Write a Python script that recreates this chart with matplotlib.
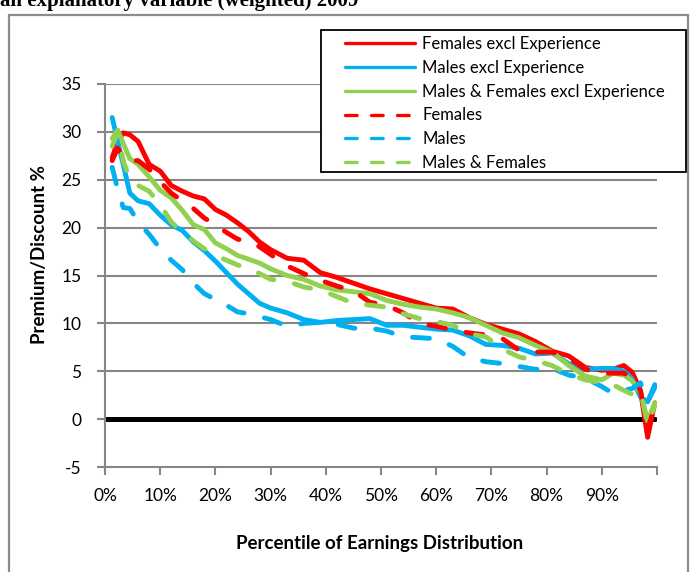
import matplotlib
matplotlib.use("Agg")
import matplotlib.pyplot as plt
from matplotlib.patches import Rectangle

# percentile positions at which the curves were read
pct = [1.3, 2.3, 3.3, 4.5, 6, 8, 10, 12, 14, 16, 18, 20, 22, 24, 26, 28, 30,
       33, 36, 39, 42, 45, 48, 51, 54, 57, 60, 63, 66, 69, 72, 75, 78, 81, 84,
       87, 90, 92, 94, 95.5, 97, 98.3, 99.6]

females_excl = [27.3, 29.0, 29.9, 29.7, 29.0, 26.6, 25.9, 24.4, 23.8, 23.3, 23.0,
                21.9, 21.3, 20.5, 19.6, 18.5, 17.7, 16.8, 16.6, 15.3, 14.8, 14.2,
                13.6, 13.1, 12.6, 12.1, 11.6, 11.5, 10.6, 9.9, 9.4, 8.9, 8.1, 7.1,
                6.6, 5.4, 5.1, 5.2, 5.6, 4.9, 3.0, -1.9, 1.7]
males_excl = [31.5, 29.0, 26.6, 23.6, 22.8, 22.5, 21.3, 20.3, 19.7, 18.5, 17.6,
              16.5, 15.3, 14.1, 13.1, 12.1, 11.6, 11.1, 10.4, 10.1, 10.3, 10.4,
              10.5, 9.8, 9.8, 9.6, 9.4, 9.3, 8.7, 7.8, 7.7, 7.4, 6.8, 6.9, 5.8,
              5.2, 5.3, 5.3, 5.0, 4.2, 2.3, 1.8, 3.6]
both_excl = [29.3, 30.2, 28.8, 27.2, 26.6, 25.3, 23.9, 23.1, 21.8, 20.3, 19.8,
             18.4, 17.8, 17.1, 16.7, 16.3, 15.7, 15.0, 14.6, 13.9, 13.5, 13.3,
             13.1, 12.4, 12.0, 11.7, 11.5, 11.1, 10.6, 9.8, 9.0, 8.5, 7.7, 7.0,
             5.6, 4.5, 4.1, 4.8, 4.6, 4.0, 2.8, -0.2, 1.7]
females = [27.0, 28.3, 27.4, 27.0, 27.0, 26.1, 24.8, 23.6, 22.8, 22.0, 21.0,
           20.3, 19.5, 18.8, 18.5, 18.0, 17.2, 16.0, 15.2, 14.5, 13.9, 13.4,
           12.2, 11.9, 11.1, 10.0, 9.7, 9.3, 9.0, 8.8, 8.4, 7.2, 7.0, 7.0, 6.4,
           5.2, 4.8, 4.8, 4.8, 4.3, 3.0, -1.0, 1.3]
males = [26.3, 24.0, 22.1, 22.0, 20.6, 19.3, 17.8, 16.6, 15.6, 14.2, 13.1,
         12.5, 11.9, 11.2, 11.0, 10.7, 10.4, 9.7, 10.0, 10.1, 9.9, 9.5, 9.5,
         9.2, 8.6, 8.5, 8.4, 7.6, 6.4, 6.0, 5.8, 5.5, 5.2, 5.3, 4.6, 4.3, 3.4,
         2.7, 3.0, 3.2, 3.8, 1.8, 3.3]
both = [28.5, 30.0, 27.0, 25.0, 24.4, 23.8, 22.4, 20.6, 19.5, 18.6, 17.8, 17.1,
        16.6, 16.1, 15.8, 15.2, 14.6, 14.4, 13.8, 13.5, 12.8, 12.1, 11.9, 11.7,
        11.0, 10.5, 10.2, 9.8, 8.9, 8.6, 7.3, 6.5, 6.1, 5.6, 4.7, 4.1, 3.8, 3.6,
        3.0, 2.6, 3.0, -0.6, 1.4]

zero_x = [0, 99.6]
zero_y = [0, 0]

x_ticks = [0, 10, 20, 30, 40, 50, 60, 70, 80, 90, 100]
x_labels = ["0%", "10%", "20%", "30%", "40%", "50%", "60%", "70%", "80%", "90%", ""]
y_ticks = [-5, 0, 5, 10, 15, 20, 25, 30, 35]

RED, BLUE, GREEN = "#ff0000", "#00b0f0", "#92d050"
GRID = "#868686"
FS = 12

plt.rcParams["font.family"] = ["Lato", "DejaVu Sans"]
plt.rcParams["axes.unicode_minus"] = False

fig = plt.figure(figsize=(6.94, 5.72), dpi=100)
ax = fig.add_axes([105 / 694, 1 - 467 / 572, 552 / 694, 383 / 572])

# outer chart frame and the caption cut off above it
fig.patches.append(Rectangle((9 / 694, -0.05), 679 / 694, 1.05 - 15 / 572,
                             transform=fig.transFigure, fill=False,
                             edgecolor="#8c8c8c", lw=1.6))
fig.text(0.0, 1 - 6 / 572, "an explanatory variable (weighted) 2009",
         family="Liberation Serif", weight="bold", fontsize=15,
         va="baseline", ha="left")

ax.set_xlim(0, 100)
ax.set_ylim(-5, 35)
for v in y_ticks[1:]:
    ax.axhline(v, color=GRID, lw=1.5, zorder=0)

ax.plot(zero_x, zero_y, color="black", lw=3.6, solid_capstyle="round", zorder=1)

solid = dict(lw=3.5, solid_capstyle="round", solid_joinstyle="round")
dash = dict(lw=3.5, dashes=(3.5, 4.3), dash_capstyle="round", dash_joinstyle="round")
ax.plot(pct, females_excl, color=RED, label="Females excl Experience", **solid)
ax.plot(pct, males_excl, color=BLUE, label="Males excl Experience", **solid)
ax.plot(pct, both_excl, color=GREEN, label="Males & Females excl Experience", **solid)
ax.plot(pct, females, color=RED, label="Females", **dash)
ax.plot(pct, males, color=BLUE, label="Males", **dash)
ax.plot(pct, both, color=GREEN, label="Males & Females", **dash)

for s in ["top", "right"]:
    ax.spines[s].set_visible(False)
for s in ["left", "bottom"]:
    ax.spines[s].set_color(GRID)
    ax.spines[s].set_linewidth(1.5)

ax.set_yticks(y_ticks)
ax.set_xticks(x_ticks)
ax.set_xticklabels(x_labels)
ax.tick_params(axis="both", colors=GRID, labelcolor="black", labelsize=12.5,
               length=6, width=1.5, direction="out")
ax.tick_params(axis="x", pad=9)
ax.tick_params(axis="y", pad=11)

fig.text(40 / 694, 1 - 255 / 572, "Premium/Discount %", rotation=90,
         weight="bold", fontsize=13.5, ha="center", va="center")
fig.text(380 / 694, 1 - 543 / 572, "Percentile of Earnings Distribution",
         weight="bold", fontsize=13.5, ha="center", va="center")

# legend box drawn separately so its left margin can be wider than the others
fig.patches.append(Rectangle((321 / 694, 1 - 172 / 572), 365 / 694, 142 / 572,
                             transform=fig.transFigure, facecolor="white",
                             edgecolor="black", lw=1.3, zorder=3))
leg_lines = [ln for ln in ax.get_lines() if not ln.get_label().startswith("_")]
leg = fig.legend(handles=leg_lines, loc="upper left",
                 bbox_to_anchor=(345 / 694, 1 - 36 / 572),
                 fontsize=FS, frameon=False, handlelength=4.2,
                 handletextpad=0.45, labelspacing=0.47,
                 borderpad=0, borderaxespad=0)
leg.set_zorder(4)
for h in leg.get_lines():
    h.set_linewidth(2.4)

fig.savefig("out.png", dpi=100)
